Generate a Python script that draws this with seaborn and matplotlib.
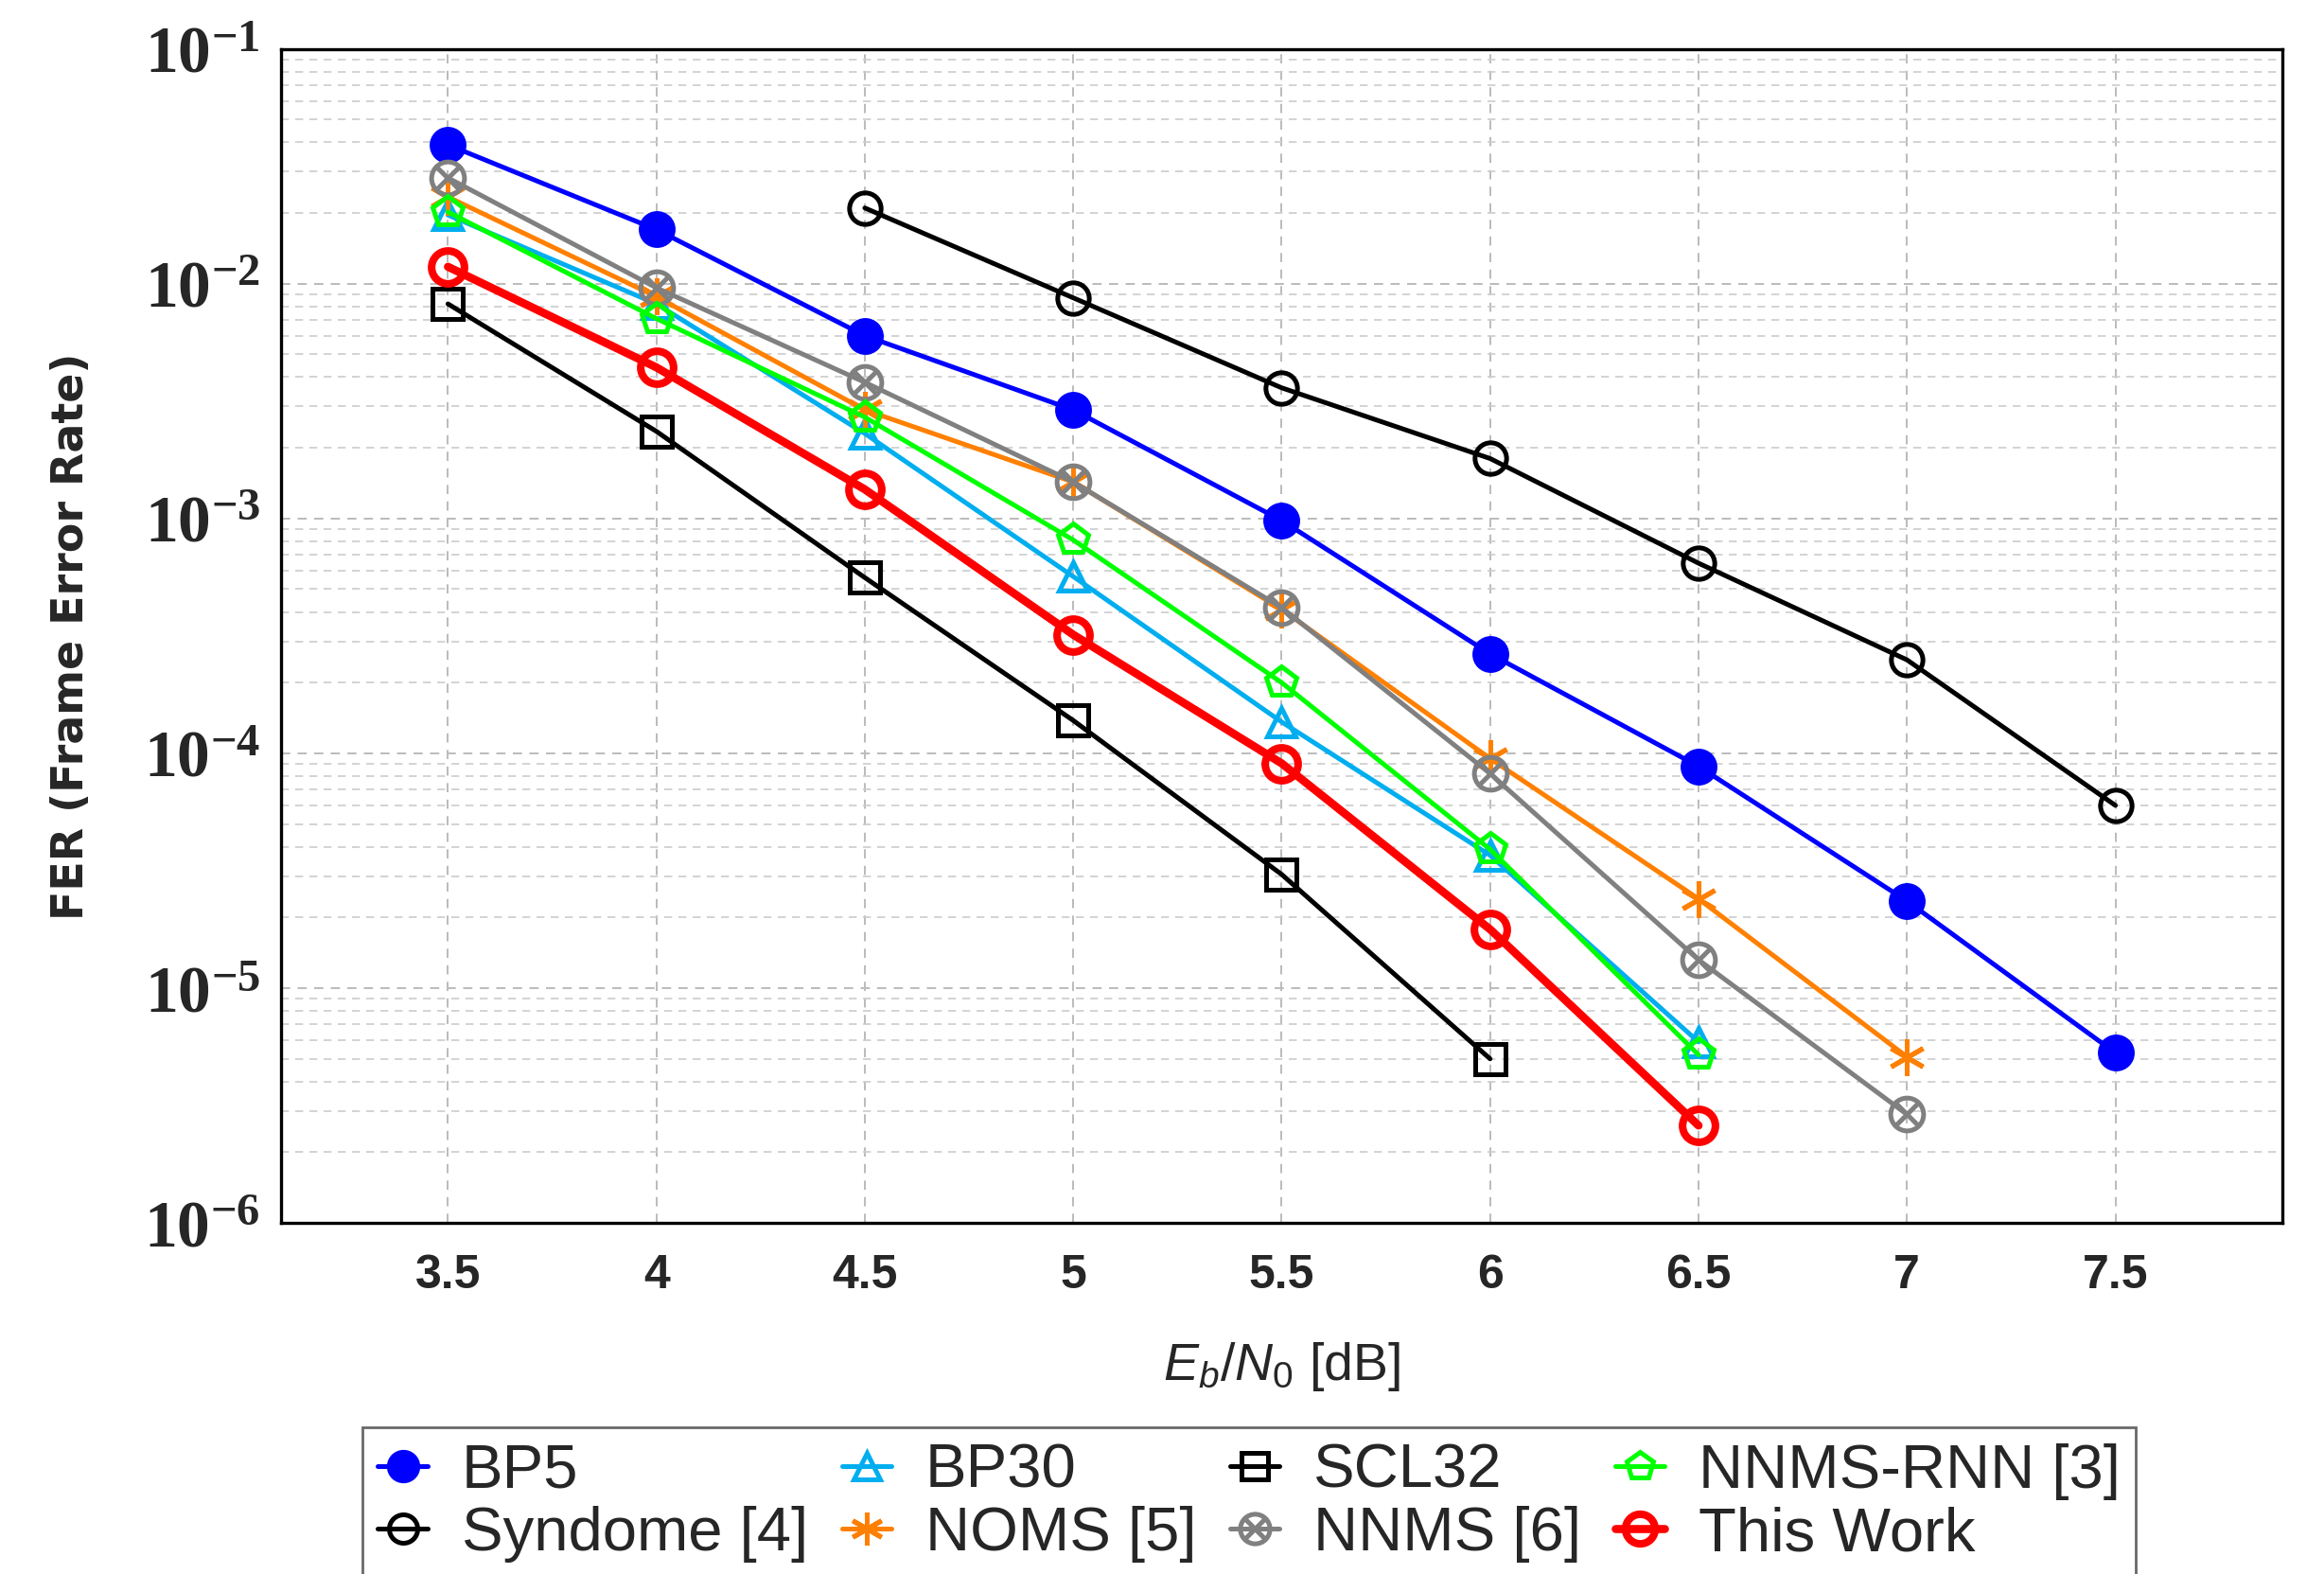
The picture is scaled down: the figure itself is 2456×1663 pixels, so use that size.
import matplotlib
matplotlib.use("Agg")
import matplotlib.pyplot as plt
from matplotlib.path import Path
from matplotlib.ticker import LogLocator, FixedLocator, NullFormatter
import seaborn as sns
import numpy as np

# Data
ebn0 = [3.5, 4.0, 4.5, 5.0, 5.5, 6.0, 6.5, 7.0, 7.5]

bp5 = [3.9e-2, 1.7e-2, 6.0e-3, 2.9e-3, 9.8e-4, 2.65e-4, 8.8e-5, 2.35e-5, 5.3e-6]
syndrome_x = [4.5, 5.0, 5.5, 6.0, 6.5, 7.0, 7.5]
syndrome = [2.1e-2, 8.7e-3, 3.6e-3, 1.8e-3, 6.45e-4, 2.5e-4, 6.0e-5]
bp30_x = [3.5, 4.0, 4.5, 5.0, 5.5, 6.0, 6.5]
bp30 = [1.96e-2, 8.2e-3, 2.3e-3, 5.66e-4, 1.36e-4, 3.68e-5, 5.9e-6]
noms_x = [3.5, 4.0, 4.5, 5.0, 5.5, 6.0, 6.5, 7.0]
noms = [2.34e-2, 8.8e-3, 2.9e-3, 1.43e-3, 4.1e-4, 9.5e-5, 2.4e-5, 5.1e-6]
scl32_x = [3.5, 4.0, 4.5, 5.0, 5.5, 6.0]
scl32 = [8.2e-3, 2.35e-3, 5.6e-4, 1.38e-4, 3.05e-5, 5.0e-6]
nnms_x = [3.5, 4.0, 4.5, 5.0, 5.5, 6.0, 6.5, 7.0]
nnms = [2.82e-2, 9.6e-3, 3.8e-3, 1.43e-3, 4.17e-4, 8.2e-5, 1.32e-5, 2.9e-6]
rnn_x = [3.5, 4.0, 4.5, 5.0, 5.5, 6.0, 6.5]
rnn = [2.02e-2, 7.1e-3, 2.7e-3, 8.1e-4, 2.0e-4, 3.9e-5, 5.2e-6]
this_x = [3.5, 4.0, 4.5, 5.0, 5.5, 6.0, 6.5]
this_work = [1.18e-2, 4.4e-3, 1.33e-3, 3.2e-4, 9.06e-5, 1.78e-5, 2.6e-6]

x_ticks = [3.5, 4, 4.5, 5, 5.5, 6, 6.5, 7, 7.5]
x_ticklabels = ["3.5", "4", "4.5", "5", "5.5", "6", "6.5", "7", "7.5"]
y_ticks = [1e-6, 1e-5, 1e-4, 1e-3, 1e-2, 1e-1]

sns.set_style("white")
plt.rcParams["font.family"] = ["Liberation Sans", "DejaVu Sans"]
plt.rcParams["mathtext.fontset"] = "custom"
plt.rcParams["mathtext.rm"] = "Liberation Sans"
plt.rcParams["mathtext.it"] = "Liberation Sans:italic"
plt.rcParams["mathtext.bf"] = "Liberation Serif:bold"

# circle with a cross (otimes) marker
circ = Path.unit_circle()
k = np.sqrt(0.5)
cross = Path([(-k, -k), (k, k), (-k, k), (k, -k)],
             [Path.MOVETO, Path.LINETO, Path.MOVETO, Path.LINETO])
otimes = Path.make_compound_path(circ, cross)

fig = plt.figure(figsize=(12.28, 8.315), dpi=200)
ax = fig.add_axes([0.121, 0.223, 0.861, 0.746])

lw = 1.8
series = [
    # x, y, label, colour, marker, filled, linewidth, markersize, edgewidth
    (ebn0, bp5, "BP5", "#0000FF", "o", True, lw, 13, 1.0),
    (syndrome_x, syndrome, "Syndome [4]", "black", "o", False, lw, 12, 1.8),
    (bp30_x, bp30, "BP30", "#00AEEF", "^", False, lw, 11, 1.8),
    (noms_x, noms, "NOMS [5]", "#FF8000", (6, 2, 0), False, lw, 14, 1.8),
    (scl32_x, scl32, "SCL32", "black", "s", False, lw, 11.5, 1.8),
    (nnms_x, nnms, "NNMS [6]", "#808080", otimes, False, lw, 12.5, 1.8),
    (rnn_x, rnn, "NNMS-RNN [3]", "#00FF00", "p", False, lw, 12, 1.8),
    (this_x, this_work, "This Work", "#FF0000", "o", False, 3.1, 12.5, 2.9),
]

for xs, ys, name, col, mk, filled, w, ms, mew in series:
    sns.lineplot(x=xs, y=ys, ax=ax, color=col, linewidth=w, label=name,
                 marker=mk, markersize=ms, markeredgewidth=mew,
                 markerfacecolor=col if filled else "none", markeredgecolor=col,
                 estimator=None, sort=False)

ax.set_yscale("log")
ax.set_ylim(1e-6, 1e-1)
ax.set_xlim(3.1, 7.9)
ax.xaxis.set_major_locator(FixedLocator(x_ticks))
ax.set_xticks(x_ticks)
ax.set_xticklabels(x_ticklabels, fontsize=18, fontweight="bold")
ax.set_yticks(y_ticks)
ax.set_yticklabels([r"$\mathbf{10^{%d}}$" % int(np.log10(v)) for v in y_ticks], fontsize=25)
ax.yaxis.set_minor_locator(LogLocator(base=10, subs=np.arange(2, 10), numticks=20))
ax.yaxis.set_minor_formatter(NullFormatter())

ax.grid(True, which="major", axis="both", linestyle=(0, (5, 4)), color="#BBBBBB", linewidth=0.7)
ax.grid(True, which="minor", axis="y", linestyle=(0, (5, 4)), color="#CCCCCC", linewidth=0.6)
ax.tick_params(axis="both", which="both", direction="in", length=0, pad=8)
ax.tick_params(axis="x", pad=12)
for s in ax.spines.values():
    s.set_color("black")
    s.set_linewidth(1.2)

ax.set_ylabel("FER (Frame Error Rate)", fontsize=16.5, fontweight="bold",
              family=["DejaVu Sans"])
ax.yaxis.set_label_coords(-0.094, 0.5)
ax.set_xlabel(r"$E_b/N_0$ [dB]", fontsize=20)
ax.xaxis.set_label_coords(0.5, -0.10)

leg = ax.legend(loc="upper left", bbox_to_anchor=(0.156, 0.093),
                bbox_transform=fig.transFigure, borderaxespad=0, ncol=4,
                fontsize=23.5, frameon=True, fancybox=False, edgecolor="#444444",
                handlelength=0.8, handletextpad=0.55, columnspacing=0.55,
                borderpad=0.25, labelspacing=0.1, markerscale=0.9)
leg.get_frame().set_linewidth(1.0)

fig.savefig("out.png", dpi=200)
